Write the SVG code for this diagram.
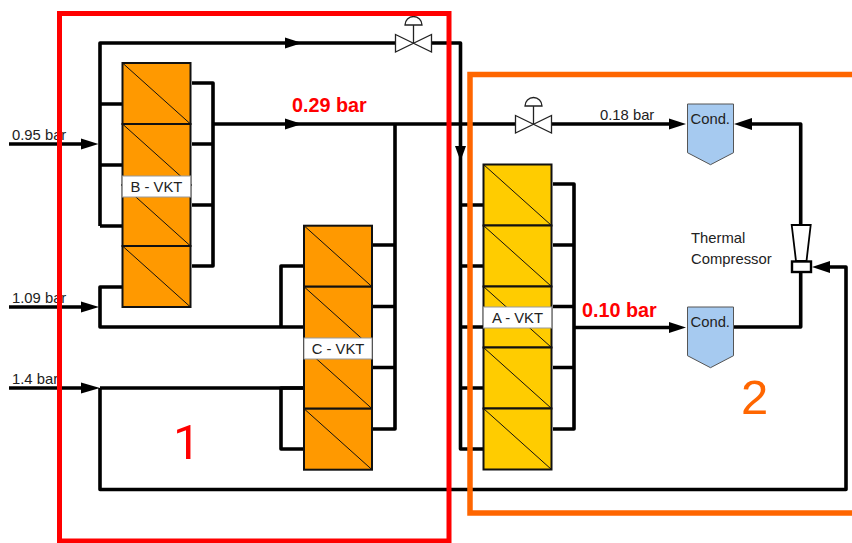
<svg xmlns="http://www.w3.org/2000/svg" width="852" height="543" viewBox="0 0 852 543">
<style>
.p{fill:none;stroke:#000;stroke-width:3.6;stroke-linejoin:round}
.cell{stroke:#111;stroke-width:2}
.d{stroke:#111;stroke-width:1}
.o{fill:#ff9900}
.y{fill:#ffcc00}
.lb{fill:#fff;stroke:#999;stroke-width:1}
text{font-family:"Liberation Sans",Arial,sans-serif;fill:#222}
.s{font-size:14.8px}
.r{font-size:19.800px;font-weight:bold;fill:#ff0000}
.valve{fill:#fff;stroke:#222;stroke-width:1.3}
.cond{fill:#a6caf0;stroke:#555;stroke-width:1}
</style>
<g id="connectors">
<path class="p" d="M100 226V43H397M100 104H122M100 165H122M100 226H122"/>
<path class="p" d="M192 83H213V266H192M192 144H213M192 205H213"/>
<path class="p" d="M213 124H515"/>
<path class="p" d="M122 287H100V327H304"/>
<path class="p" d="M100 388V489.500H846V267H829"/>
<path class="p" d="M100 388H304"/>
<path class="p" d="M304 266H281V327M304 388H281V449H304"/>
<path class="p" d="M372 245H395V429H372M372 306.500H395M372 367.500H395M395 124V245"/>
<path class="p" d="M431 43H460.500V449H483M460.500 205H483M460.500 266H483M460.500 327H483M460.500 388H483"/>
<path class="p" d="M553 184H574V429H553M553 245H574M553 306.500H574M553 367.500H574"/>
<path class="p" d="M574 327.500H670"/>
<path class="p" d="M552 124H670"/>
<path class="p" d="M734 327H800.700V272M800.700 225V124H750"/>
<path class="p" d="M9 144H82M9 307H82M9 388H82"/>
<g fill="#000">
<path d="M98.500 144L81 138.500V149.500Z"/><path d="M99 307L81 301.500V312.500Z"/><path d="M100 388L81 382.500V393.500Z"/>
<path d="M302 43L285 37.500V48.500Z"/><path d="M302 124L285 118.500V129.500Z"/>
<path d="M460.500 161L455 146H466Z"/>
<path d="M686 124L669 118.500V129.500Z"/><path d="M686 327.500L669 322V333Z"/>
<path d="M734 124L752 118V130Z"/><path d="M812 267L830 261V273Z"/>
</g>
</g>
<g id="B-VKT">
<rect class="cell o" x="122.500" y="63" width="68" height="61"/><rect class="cell o" x="122.500" y="124" width="68" height="61"/><rect class="cell o" x="122.500" y="185" width="68" height="61"/><rect class="cell o" x="122.500" y="246" width="68" height="61"/>
<path class="d" d="M122.500 63L190.500 124M122.500 124L190.500 185M122.500 185L190.500 246M122.500 246L190.500 307"/>
<rect class="lb" x="122.500" y="176" width="68" height="21"/>
<text class="s" x="156.500" y="192" text-anchor="middle">B - VKT</text>
</g>
<g id="C-VKT">
<rect class="cell o" x="304" y="225.700" width="68" height="61"/><rect class="cell o" x="304" y="286.700" width="68" height="61"/><rect class="cell o" x="304" y="347.700" width="68" height="61"/><rect class="cell o" x="304" y="408.700" width="68" height="61"/>
<path class="d" d="M304 225.700L372 286.700M304 286.700L372 347.700M304 347.700L372 408.700M304 408.700L372 469.700"/>
<rect class="lb" x="304" y="338" width="68" height="21"/>
<text class="s" x="338" y="354" text-anchor="middle">C - VKT</text>
</g>
<g id="A-VKT">
<rect class="cell y" x="483.500" y="164.500" width="68" height="61"/><rect class="cell y" x="483.500" y="225.500" width="68" height="61"/><rect class="cell y" x="483.500" y="286.500" width="68" height="61"/><rect class="cell y" x="483.500" y="347.500" width="68" height="61"/><rect class="cell y" x="483.500" y="408.500" width="68" height="61"/>
<path class="d" d="M483.500 164.500L551.500 225.500M483.500 225.500L551.500 286.500M483.500 286.500L551.500 347.500M483.500 347.500L551.500 408.500M483.500 408.500L551.500 469.500"/>
<rect class="lb" x="483.500" y="307" width="68" height="21"/>
<text class="s" x="517.500" y="323" text-anchor="middle">A - VKT</text>
</g>
<g id="valve-1">
<path class="valve" d="M395.500 34.500L431.500 52V34.500L395.500 52Z"/>
<path class="valve" d="M413.500 43V25M405 25A8.500 8.500 0 0 1 422 25Z"/>
</g>
<g id="valve-2">
<path class="valve" d="M515.500 115.500L551.500 133V115.500L515.500 133Z"/>
<path class="valve" d="M533.500 124V106M525 106A8.500 8.500 0 0 1 542 106Z"/>
</g>
<g id="cond-1">
<path class="cond" d="M687.500 104H733.500V152.700L710.500 164.700L687.500 152.700Z"/>
<text class="s" x="690.500" y="124">Cond.</text>
</g>
<g id="cond-2">
<path class="cond" d="M687.500 307H733.500V355.700L710.500 367.700L687.500 355.700Z"/>
<text class="s" x="690.500" y="327">Cond.</text>
</g>
<g id="thermal-compressor">
<path fill="#fff" stroke="#000" stroke-width="1.800" d="M791.700 225H810.700L806.500 261H796Z"/>
<rect fill="#fff" stroke="#000" stroke-width="2.400" x="792" y="261.500" width="19" height="10.500"/>
<text class="s" x="691" y="242.500">Thermal</text>
<text class="s" x="691" y="264">Compressor</text>
</g>
<g id="labels">
<text class="s" x="12" y="140">0.95 bar</text>
<text class="s" x="12" y="303">1.09 bar</text>
<text class="s" x="12" y="384">1.4 bar</text>
<text class="s" x="600" y="120">0.18 bar</text>
<text class="r" x="292" y="112">0.29 bar</text>
<text class="r" x="582" y="317">0.10 bar</text>
</g>
<g id="zones">
<rect x="59.500" y="13.500" width="389.500" height="527.500" fill="none" stroke="#ff0000" stroke-width="5"/>
<path d="M852 74.600H470V513H852" fill="none" stroke="#ff6600" stroke-width="5.500"/>
<text x="173" y="459" font-size="49" style="fill:#ff0000;font-family:Roboto,sans-serif">1</text>
<text x="741" y="414" font-size="49" style="fill:#ff6600">2</text>
</g>
</svg>
